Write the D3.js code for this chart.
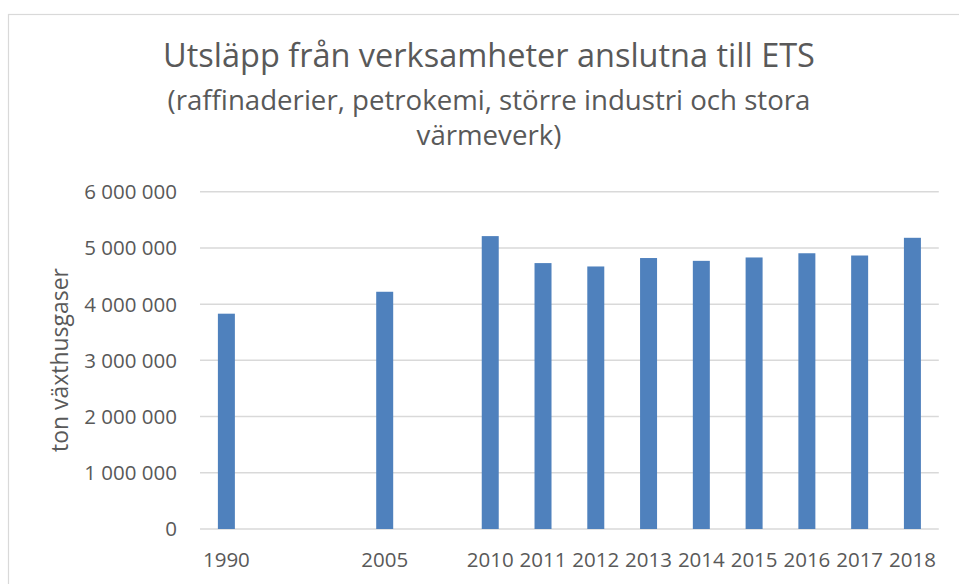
<!DOCTYPE html>
<html>
<head>
<meta charset="utf-8">
<script src="https://cdn.jsdelivr.net/npm/d3@7"></script>
<style>
  body { margin: 0; background: #fff; }
  text { font-family: "Open Sans", sans-serif; fill: #595959; }
</style>
</head>
<body>
<div id="chart"></div>
<script>
// categories incl. empty slots (Excel leaves gaps between 1990, 2005 and 2010)
const categories = ["1990", "", "", "2005", "", "2010", "2011", "2012", "2013", "2014", "2015", "2016", "2017", "2018"];
const values = [3830000, null, null, 4220000, null, 5210000, 4730000, 4670000, 4820000, 4770000, 4830000, 4905000, 4865000, 5180000];
const yTicks = [0, 1000000, 2000000, 3000000, 4000000, 5000000, 6000000];
const titleLines = ["Utsläpp från verksamheter anslutna till ETS",
                    "(raffinaderier, petrokemi, större industri och stora",
                    "värmeverk)"];
const yTitle = "ton växthusgaser";

const W = 959, H = 584;
const margin = {top: 191.7, right: 20.2, bottom: 55, left: 200};
const width = W - margin.left - margin.right,
      height = H - margin.top - margin.bottom;

const svg = d3.select("#chart").append("svg")
  .attr("width", W)
  .attr("height", H);

svg.append("rect")
  .attr("x", 8.5).attr("y", 14.5)
  .attr("width", 1000).attr("height", 1000)
  .attr("fill", "none")
  .attr("stroke", "#d9d9d9")
  .attr("stroke-width", 1.2);

// fit a text element's font size so that it spans a target width
function fit(sel, target) {
  const len = sel.node().getComputedTextLength();
  const fs = parseFloat(sel.style("font-size"));
  const size = fs * target / len;
  sel.style("font-size", size + "px");
  return size;
}

const t1 = svg.append("text")
  .attr("x", 489).attr("y", 67)
  .attr("text-anchor", "middle")
  .style("font-size", "28px")
  .text(titleLines[0]);
fit(t1, 652);

const t2 = svg.append("text")
  .attr("x", 489).attr("y", 110)
  .attr("text-anchor", "middle")
  .style("font-size", "22px")
  .text(titleLines[1]);
const subSize = fit(t2, 643);

svg.append("text")
  .attr("x", 489).attr("y", 145)
  .attr("text-anchor", "middle")
  .style("font-size", subSize + "px")
  .text(titleLines[2]);

const g = svg.append("g")
  .attr("transform", "translate(" + margin.left + "," + margin.top + ")");

const x = d3.scaleBand()
  .domain(categories.map((c, i) => i))
  .range([0, width])
  .paddingInner(0.678)
  .paddingOuter(0.339);

const y = d3.scaleLinear()
  .domain([0, 6000000])
  .range([height, 0]);

const fmt = d3.formatLocale({decimal: ",", thousands: " ", grouping: [3], currency: ["", ""]}).format(",d");

// gridlines
g.selectAll(".grid")
  .data(yTicks)
  .enter()
  .append("line")
  .attr("x1", 0).attr("x2", width)
  .attr("y1", d => y(d)).attr("y2", d => y(d))
  .attr("stroke", "#d9d9d9")
  .attr("stroke-width", 1.5);

// y labels
g.selectAll(".ylab")
  .data(yTicks)
  .enter()
  .append("text")
  .attr("x", -23)
  .attr("y", d => y(d) + 7.5)
  .attr("text-anchor", "end")
  .style("font-size", "20.5px")
  .text(d => fmt(d));

// bars
g.selectAll(".bar")
  .data(values.map((v, i) => ({i: i, v: v})).filter(d => d.v != null))
  .enter()
  .append("rect")
  .attr("x", d => x(d.i))
  .attr("y", d => y(d.v))
  .attr("width", x.bandwidth())
  .attr("height", d => height - y(d.v))
  .attr("fill", "#4f81bd");

// x axis
const xAxis = g.append("g")
  .attr("transform", "translate(0," + height + ")")
  .call(d3.axisBottom(x).tickSize(0).tickFormat(i => categories[i]));
xAxis.select(".domain").remove();
xAxis.selectAll("text")
  .attr("y", 0)
  .attr("dy", null)
  .attr("transform", "translate(0,38)")
  .style("font-size", "20.5px")
  .style("font-family", "Open Sans, sans-serif")
  .attr("fill", "#595959");

// y axis title
svg.append("text")
  .attr("transform", "translate(68,360) rotate(-90)")
  .attr("text-anchor", "middle")
  .style("font-size", "20px")
  .text(yTitle)
  .call(s => fit(s, 184));
</script>
</body>
</html>
